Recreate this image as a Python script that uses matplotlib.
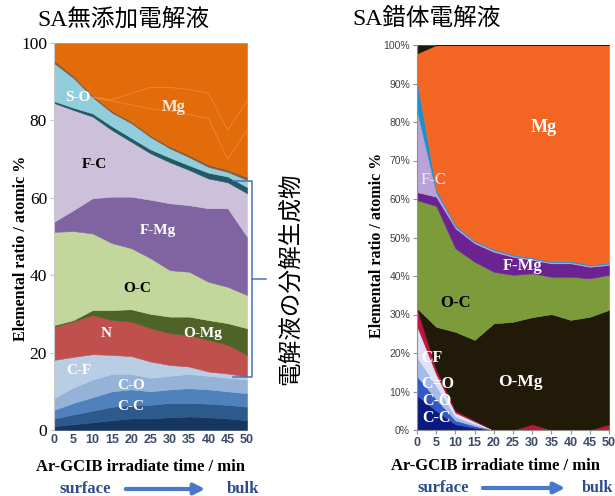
import matplotlib
matplotlib.use("Agg")
import matplotlib.pyplot as plt
from matplotlib.lines import Line2D
from matplotlib.patches import FancyArrowPatch

W, H = 615, 496

# ---------------- data ----------------
time_min = [0, 5, 10, 15, 20, 25, 30, 35, 40, 45, 50]
x_ticks = [0, 5, 10, 15, 20, 25, 30, 35, 40, 45, 50]
left_yticks = [0, 20, 40, 60, 80, 100]
right_yticks = [0, 10, 20, 30, 40, 50, 60, 70, 80, 90, 100]

# Left: SA-free electrolyte (layers bottom -> top)
L_navy  = [1.0, 1.5, 2.0, 2.5, 3.0, 3.0, 3.3, 3.5, 3.3, 3.0, 2.5]
L_dblue = [2.0, 2.5, 3.0, 3.5, 3.5, 3.5, 3.7, 3.5, 3.5, 3.5, 3.5]
L_CC    = [2.2, 3.0, 3.5, 4.0, 4.0, 3.5, 3.5, 3.8, 3.7, 3.5, 3.5]
L_CO    = [3.0, 4.0, 4.5, 4.5, 4.0, 3.5, 3.5, 3.7, 3.5, 3.5, 3.5]
L_CF    = [9.9, 7.9, 6.6, 4.9, 4.6, 4.2, 2.8, 1.9, 1.1, 1.1, 0.8]
L_N     = [8.6, 9.2, 10.1, 9.0, 8.9, 8.6, 8.2, 8.1, 8.2, 7.4, 5.6]
L_OMg   = [0.4, 0.3, 1.3, 2.6, 3.2, 3.7, 4.3, 4.8, 5.1, 5.6, 6.9]
L_OC    = [24.1, 23.0, 19.8, 17.3, 15.8, 14.4, 12.0, 11.6, 9.9, 9.4, 8.6]
L_FMg   = [2.6, 5.4, 9.1, 12.0, 13.3, 15.1, 17.3, 17.2, 19.0, 20.3, 15.1]
L_FC    = [30.7, 25.9, 21.1, 17.2, 14.2, 12.0, 10.6, 9.1, 7.7, 6.7, 11.2]
L_teal  = [0.5, 0.6, 0.8, 1.0, 1.0, 1.0, 1.2, 1.2, 1.5, 1.5, 1.6]
L_SO    = [9.8, 7.7, 4.2, 3.5, 3.8, 3.2, 2.4, 2.1, 1.5, 1.2, 1.8]
L_misc  = [0.8, 0.6, 0.5, 0.5, 0.5, 0.5, 0.5, 0.6, 0.6, 0.6, 0.8]

# faint lines visible inside the Mg area of the left chart
ghost_time = [10, 15, 20, 25, 30, 35, 40, 45, 50]
L_ghost1 = [86.0, 85.3, 87.0, 88.5, 88.5, 88.0, 87.0, 77.5, 85.0]
L_ghost2 = [86.0, 85.0, 84.0, 83.0, 82.5, 81.5, 80.5, 70.0, 77.5]

# Right: SA-complex electrolyte (layers bottom -> top)
R_CC    = [9.0, 5.0, 1.5, 0.6, 0, 0, 0, 0, 0, 0, 0]
R_CO    = [5.0, 3.0, 1.0, 0.5, 0, 0, 0, 0, 0, 0, 0]
R_CdO   = [5.0, 3.5, 1.0, 0.5, 0, 0, 0, 0, 0, 0, 0]
R_CF    = [8.0, 3.0, 1.0, 0.6, 0, 0, 0, 0, 0, 0, 0]
R_N     = [4.6, 1.2, 0.5, 0.3, 0, 0, 1.5, 0, 0, 0, 1.5]
R_OMg   = [0.0, 11.1, 20.5, 20.9, 27.7, 28.1, 27.8, 30.1, 28.6, 29.4, 29.7]
R_OC    = [28.1, 31.4, 21.7, 20.3, 13.4, 12.2, 11.4, 9.7, 11.2, 10.0, 9.1]
R_FMg   = [2.1, 2.4, 5.2, 4.8, 5.2, 4.7, 3.5, 3.5, 3.5, 3.0, 2.6]
R_FC    = [21.3, 1.2, 0.5, 0.4, 0.4, 0.3, 0.3, 0.3, 0.3, 0.3, 0.3]
R_SO    = [7.8, 0.7, 0.4, 0.3, 0.3, 0.3, 0.3, 0.3, 0.3, 0.3, 0.3]
R_other = [2.2, 0, 0, 0, 0, 0, 0, 0, 0, 0, 0]

def remainder(layers):
    return [100 - sum(v) for v in zip(*layers)]

L_layers = [L_navy, L_dblue, L_CC, L_CO, L_CF, L_N, L_OMg, L_OC, L_FMg, L_FC, L_teal, L_SO, L_misc]
L_Mg = remainder(L_layers)
L_colors = ['#17375e', '#2c5a8c', '#4f81bd', '#95b3d7', '#b9cde5', '#c0504d', '#4f6228',
            '#c3d69b', '#8064a2', '#ccc0da', '#215967', '#92cddc', '#8a5a3a', '#e36c0a']

R_layers = [R_CC, R_CO, R_CdO, R_CF, R_N, R_OMg, R_OC, R_FMg, R_FC, R_SO]
R_Mg = remainder(R_layers + [R_other])
R_colors = ['#0b1a80', '#3358c8', '#a6bbea', '#dfe2f4', '#c0143c', '#221a08', '#7c9c3c',
            '#6a2390', '#b9a2d8', '#1f8fcb', '#f26522', '#1c1a0a']

fig = plt.figure(figsize=(W / 100, H / 100), dpi=100)
fig.patch.set_facecolor('white')

def fx(x):
    return x / W

def fy(y):
    return 1 - y / H

# ---------------- left axes ----------------
axL = fig.add_axes([fx(54), fy(430), (247 - 54) / W, (430 - 43) / H])
polysL = axL.stackplot(time_min, *L_layers, L_Mg, colors=L_colors)
for p, c in zip(polysL, L_colors):
    p.set_edgecolor(c)
    p.set_linewidth(0.4)
axL.plot(ghost_time, L_ghost1, color='#f0a868', lw=0.7, alpha=0.45)
axL.plot(ghost_time, L_ghost2, color='#f0a868', lw=0.7, alpha=0.45)
axL.set_xlim(0, 50)
axL.set_ylim(0, 100)
axL.set_xticks(x_ticks)
axL.set_xticklabels([str(v) for v in x_ticks], fontsize=9, color='#3b4a66',
                    fontweight='bold', family='Liberation Sans')
axL.set_yticks(left_yticks)
axL.set_yticklabels([str(v) for v in left_yticks], fontsize=12.5, family='Liberation Serif')
for s in ['top', 'right', 'bottom']:
    axL.spines[s].set_visible(False)
axL.spines['left'].set_color('#c8c8c8')
axL.tick_params(axis='y', length=3, color='#c8c8c8', pad=2)
axL.tick_params(axis='x', length=0, pad=3)

lab_kw = dict(fontweight='bold', family='Liberation Serif', ha='center', va='center')
axL.text(31, 83.5, 'Mg', color='#fde9d9', fontsize=12, **lab_kw)
axL.text(6.2, 86, 'S-O', color='white', fontsize=11, **lab_kw)
axL.text(10.5, 68.5, 'F-C', color='black', fontsize=11, **lab_kw)
axL.text(27, 51.5, 'F-Mg', color='white', fontsize=11, **lab_kw)
axL.text(21.5, 36.5, 'O-C', color='black', fontsize=11, **lab_kw)
axL.text(38.5, 25, 'O-Mg', color='white', fontsize=11, **lab_kw)
axL.text(13.5, 25, 'N', color='white', fontsize=11, **lab_kw)
axL.text(6.5, 15.5, 'C-F', color='white', fontsize=11, **lab_kw)
axL.text(20, 11.5, 'C-O', color='white', fontsize=11, **lab_kw)
axL.text(20, 6, 'C-C', color='white', fontsize=11, **lab_kw)

# ---------------- right axes ----------------
axR = fig.add_axes([fx(417), fy(430), (609 - 417) / W, (430 - 45) / H])
polysR = axR.stackplot(time_min, *R_layers, R_Mg, R_other, colors=R_colors)
for p, c in zip(polysR, R_colors):
    p.set_edgecolor(c)
    p.set_linewidth(0.4)
axR.set_xlim(0, 50)
axR.set_ylim(0, 100)
axR.set_xticks(x_ticks)
axR.set_xticklabels([str(v) for v in x_ticks], fontsize=9, color='#3b4a66',
                    fontweight='bold', family='Liberation Sans')
axR.set_yticks(right_yticks)
axR.set_yticklabels([f'{v}%' for v in right_yticks], fontsize=7.5, color='#404040',
                    family='Liberation Sans')
for s in ['top', 'right']:
    axR.spines[s].set_visible(False)
axR.spines['left'].set_color('#909090')
axR.spines['bottom'].set_color('#909090')
axR.tick_params(axis='both', length=3, color='#909090', pad=2)

axR.text(33, 78.5, 'Mg', color='white', fontsize=13, **lab_kw)
axR.text(4.2, 65, 'F-C', color='#eee8f6', fontsize=12, family='Liberation Serif',
         ha='center', va='center')
axR.text(27.5, 42.5, 'F-Mg', color='white', fontsize=12, **lab_kw)
axR.text(10, 33, 'O-C', color='black', fontsize=12, **lab_kw)
axR.text(27, 12.5, 'O-Mg', color='white', fontsize=12.5, **lab_kw)
axR.text(3.8, 18.7, 'CF', color='white', fontsize=11.5, **lab_kw)
axR.text(5.5, 12, 'C=O', color='white', fontsize=11.5, **lab_kw)
axR.text(5.2, 7.5, 'C-O', color='white', fontsize=11.5, **lab_kw)
axR.text(5, 3, 'C-C', color='white', fontsize=11.5, **lab_kw)

# ---------------- figure texts ----------------
title_fam = ['Liberation Serif', 'Noto Sans CJK JP']
fig.text(fx(123), fy(19), 'SA無添加電解液', fontsize=17, family=title_fam, ha='center', va='center')
fig.text(fx(427), fy(19), 'SA錯体電解液', fontsize=17, family=title_fam, ha='center', va='center')

ylab_kw = dict(fontsize=11.5, fontweight='bold', family='Liberation Serif', rotation=90,
               ha='center', va='center')
fig.text(fx(21), fy(248), 'Elemental ratio / atomic %', **ylab_kw)
fig.text(fx(377), fy(245), 'Elemental ratio / atomic %', **ylab_kw)

xlab_kw = dict(fontsize=12, fontweight='bold', family='Liberation Serif', ha='center', va='center')
fig.text(fx(140), fy(467), 'Ar-GCIB irradiate time / min', **xlab_kw)
fig.text(fx(495), fy(466), 'Ar-GCIB irradiate time / min', **xlab_kw)

sb_kw = dict(fontsize=12, fontweight='bold', family='Liberation Serif', color='#2f4b8c',
             va='center')
fig.text(fx(59), fy(489), 'surface', ha='left', **sb_kw)
fig.text(fx(227), fy(489), 'bulk', ha='left', **sb_kw)
fig.text(fx(417), fy(488), 'surface', ha='left', **sb_kw)
fig.text(fx(613), fy(488), 'bulk', ha='right', fontsize=11.5, fontweight='bold',
         family='Liberation Serif', color='#2f4b8c', va='center')

arrow_color = '#4a78c8'
for x0, x1, yy in [(123, 208, 489), (480, 568, 488)]:
    fig.add_artist(FancyArrowPatch((fx(x0), fy(yy)), (fx(x1), fy(yy)),
                                   transform=fig.transFigure, arrowstyle='-|>',
                                   mutation_scale=16, lw=3, color=arrow_color))

# bracket
br = '#4472c4'
bx = [233, 252, 252, 233]
byy = [181, 181, 377, 377]
fig.add_artist(Line2D([fx(v) for v in bx], [fy(v) for v in byy], color=br, lw=1.1,
                      transform=fig.transFigure))
fig.add_artist(Line2D([fx(252), fx(266)], [fy(279), fy(279)], color=br, lw=1.1,
                      transform=fig.transFigure))
fig.text(fx(290), fy(279), '電解液の分解生成物', fontsize=17, family='Noto Sans CJK JP',
         rotation=90, ha='center', va='center')

fig.savefig('out.png', dpi=100)
